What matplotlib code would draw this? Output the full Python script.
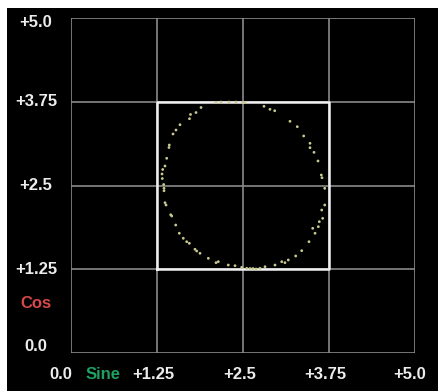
import matplotlib.pyplot as plt
from matplotlib.patches import Rectangle

# --- Données ---
ticks = [0.0, 1.25, 2.5, 3.75, 5.0]
x_labels = ["0.0", "+1.25", "+2.5", "+3.75", "+5.0"]
y_labels = ["0.0", "+1.25", "+2.5", "+3.75", "+5.0"]

sine = [2.529, 2.398, 2.297, 2.180, 2.108, 1.890, 1.817, 1.737, 1.722, 1.584,
        1.526, 1.483, 1.429, 1.424, 1.391, 1.366, 1.333, 1.323, 1.327, 1.347,
        1.352, 1.352, 1.366, 1.381, 1.449, 1.464, 1.522, 1.574, 1.632, 1.682,
        1.720, 1.802, 1.827, 1.875, 1.996, 2.108, 2.141, 2.286, 2.384, 2.481,
        2.554, 2.602, 2.645, 2.689, 2.747, 2.820, 2.965, 3.063, 3.110, 3.158,
        3.266, 3.353, 3.459, 3.547, 3.513, 3.595, 3.609, 3.658, 3.644, 3.688,
        3.688, 3.648, 3.638, 3.590, 3.532, 3.474, 3.474, 3.382, 3.289, 3.183,
        2.961, 2.892, 2.805, 2.496]
cos = [3.736, 3.746, 3.746, 3.746, 3.739, 3.664, 3.589, 3.560, 3.497, 3.407,
       3.328, 3.269, 3.104, 3.067, 2.906, 2.791, 2.739, 2.672, 2.604, 2.515,
       2.458, 2.422, 2.243, 2.209, 2.064, 2.045, 1.910, 1.787, 1.712, 1.661,
       1.637, 1.548, 1.522, 1.488, 1.413, 1.348, 1.363, 1.313, 1.303, 1.279,
       1.264, 1.261, 1.261, 1.254, 1.264, 1.288, 1.313, 1.363, 1.348, 1.388,
       1.448, 1.527, 1.661, 1.787, 1.861, 1.885, 1.960, 2.010, 2.134, 2.209,
       2.458, 2.616, 2.657, 2.866, 2.995, 3.064, 3.130, 3.239, 3.378, 3.458,
       3.616, 3.637, 3.682, 3.742]

police = ['Liberation Sans', 'DejaVu Sans']
gris = '#8a8a8a'

fig = plt.figure(figsize=(4.39, 3.91), dpi=100, facecolor='white')
fig.patches.append(Rectangle((7 / 439, 0), 1, 383 / 391, transform=fig.transFigure,
                             facecolor='black', edgecolor='none', zorder=-1))

ax = fig.add_axes([71 / 439, 38 / 391, 344 / 439, 335 / 391])
ax.set_facecolor('black')
ax.set_xlim(0, 5)
ax.set_ylim(0, 5)

# Grille grise
for t in ticks:
    ax.axvline(t, color=gris, lw=1.2, zorder=1)
    ax.axhline(t, color=gris, lw=1.2, zorder=1)

# Carré central blanc
ax.plot([1.25, 3.75, 3.75, 1.25, 1.25], [1.25, 1.25, 3.75, 3.75, 1.25],
        color='#f0f0f0', lw=1.8, zorder=2, clip_on=False)

# Points du cercle
ax.scatter(sine, cos, s=4, color='#c8c890', edgecolors='none', zorder=3)

for s in ax.spines.values():
    s.set_visible(False)
ax.set_xticks([])
ax.set_yticks([])

# Étiquettes des axes
txt = dict(color='#ececec', fontsize=12, weight='bold', family=police,
           ha='center', va='center', clip_on=False)
x_pos = [-0.153, 1.192, 2.449, 3.699, 4.920]
y_pos = [0.104, 1.25, 2.5, 3.75, 4.933]
for x, lab in zip(x_pos, x_labels):
    ax.text(x, -0.328, lab, **txt)
for y, lab in zip(y_pos, y_labels):
    ax.text(-0.51, y, lab, **txt)

ax.text(0.472, -0.328, "Sine", color='#1fa060', fontsize=12, weight='bold',
        family=police, ha='center', va='center')
ax.text(-0.51, 0.746, "Cos", color='#d84848', fontsize=12, weight='bold',
        family=police, ha='center', va='center')

plt.savefig('out.png', dpi=100, facecolor='white')
